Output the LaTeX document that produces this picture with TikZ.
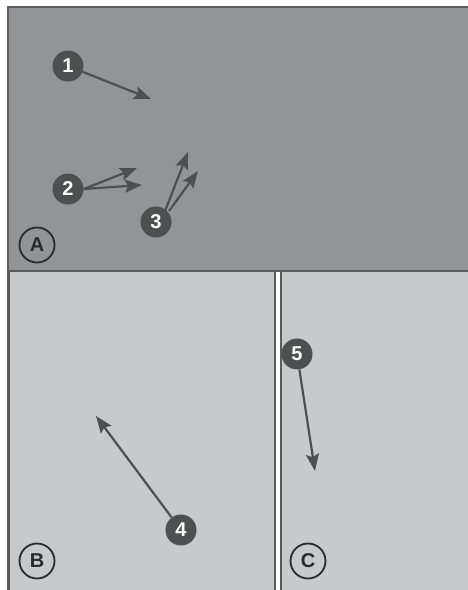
\documentclass[tikz,border=0pt]{standalone}
\usepackage{fontspec}
\setmainfont{Liberation Sans}
\usetikzlibrary{arrows.meta}
\definecolor{panelA}{HTML}{939497}
\definecolor{panelB}{HTML}{C8C9CB}
\definecolor{edge}{HTML}{5A5B5E}
\definecolor{mark}{HTML}{4E4F51}
\definecolor{letter}{HTML}{2A2A2C}
\tikzset{
  num/.style={circle, fill=mark, text=white, inner sep=0pt, minimum size=31pt, font=\bfseries\fontsize{20}{20}\selectfont},
  lbl/.style={circle, draw=letter, line width=1.8pt, text=letter, inner sep=0pt, minimum size=35pt, font=\bfseries\fontsize{20}{20}\selectfont},
  pointer/.style={draw=mark, line width=2.2pt, -{Stealth[length=17pt,width=13pt,inset=3pt]}},
  panel/.style={draw=edge, line width=2pt}
}
\begin{document}
\begin{tikzpicture}[x=1pt,y=-1pt]
\useasboundingbox (0,0) rectangle (468,590);
% panels
\fill[panelB] (8,272) rectangle (275,592);
\fill[panelB] (281,272) rectangle (470,592);
\draw[panel] (9,272) -- (9,592);
\draw[panel] (275,272) -- (275,592);
\draw[panel] (281,272) -- (281,592);
\fill[panelA] (7,7) rectangle (470,271);
\draw[panel] (8,592) -- (8,7) -- (470,7);
\draw[panel] (8,271) -- (470,271);
% labels
\node[lbl] (A) at (37,245) {A};
\node[lbl] (B) at (37,561) {B};
\node[lbl] (C) at (308,561) {C};
% numbered markers
\node[num] (n1) at (68,66) {1};
\node[num] (n2) at (68,189) {2};
\node[num] (n3) at (156,222) {3};
\node[num] (n4) at (181,530) {4};
\node[num] (n5) at (297,354) {5};
% targets
\coordinate (t1) at (151,99);
\coordinate (t2a) at (137,168);
\coordinate (t2b) at (142,185);
\coordinate (t3a) at (188,152);
\coordinate (t3b) at (198,171);
\coordinate (t4) at (96,416);
\coordinate (t5) at (315,471);
% pointers
\draw[pointer] (n1) -- (t1);
\draw[pointer] (n2.east) -- (t2a);
\draw[pointer] (n2.east) -- (t2b);
\draw[pointer] ([xshift=-2pt]n3.north east) -- (t3a);
\draw[pointer] ([xshift=2pt]n3.north east) -- (t3b);
\draw[pointer] (n4) -- (t4);
\draw[pointer] (n5) -- (t5);
\end{tikzpicture}
\end{document}
